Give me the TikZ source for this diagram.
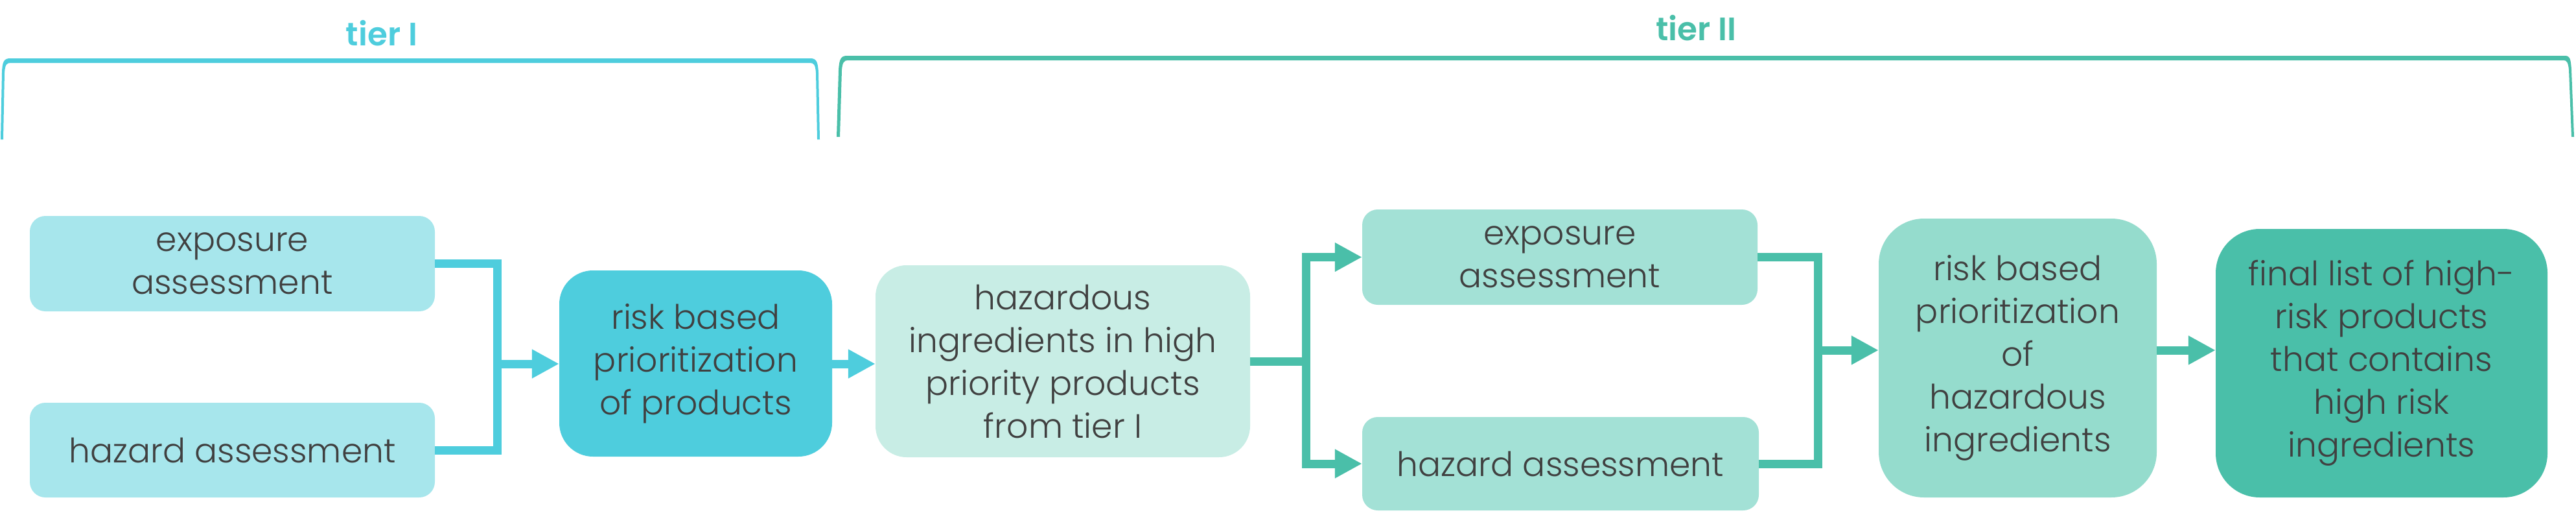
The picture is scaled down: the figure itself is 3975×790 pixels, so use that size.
\documentclass[tikz,border=0pt]{standalone}
\usepackage{fontspec}
\setmainfont{Poppins}[UprightFont=* Light, BoldFont=* SemiBold]
\usetikzlibrary{arrows.meta}
\definecolor{cyanD}{HTML}{4ECDDD}
\definecolor{cyanL}{HTML}{A7E6EC}
\definecolor{tealXL}{HTML}{C8EDE5}
\definecolor{tealL}{HTML}{A3E1D6}
\definecolor{tealM}{HTML}{95DCCD}
\definecolor{tealD}{HTML}{4ABFA9}
\definecolor{txt}{HTML}{404040}
\tikzset{
  card/.style={draw=none, align=center, text=txt, inner sep=0pt,
    font=\fontsize{52}{66}\selectfont},
  cline/.style={draw=cyanD, line width=13pt, line join=miter},
  tline/.style={draw=tealD, line width=13pt, line join=miter},
  tip/.style={-{Triangle[length=42pt,width=42pt]}},
  tierlabel/.style={font=\fontsize{50}{60}\selectfont\bfseries, anchor=base, inner sep=0pt}
}
\begin{document}
\begin{tikzpicture}[x=1pt,y=-1pt]
\useasboundingbox (0,0) rectangle (3975,790);
% brackets
\fill[cyanD] (1,215) -- (3,112) .. controls (3.5,95) and (6,90) .. (16,90) -- (1250,90)
  .. controls (1260,90) and (1262,95) .. (1263,112) -- (1265,215) -- (1261,215) -- (1259,112)
  .. controls (1258,100) and (1256,97) .. (1250,97) -- (16,97)
  .. controls (10,97) and (8,100) .. (7,112) -- (5,215) -- cycle;
\fill[tealD] (1291,211) -- (1294,108) .. controls (1295,92) and (1297,86) .. (1307,86) -- (3958,86)
  .. controls (3966,86) and (3967,92) .. (3968,108) -- (3972,211) -- (3968,211) -- (3964,108)
  .. controls (3963,97) and (3961,93) .. (3956,93) -- (1308,93)
  .. controls (1302,93) and (1300,97) .. (1299,108) -- (1296,211) -- cycle;
\node[tierlabel, text=cyanD] (t1) at (589,70) {tier I};
\node[tierlabel, text=tealD] (t2) at (2617,62) {tier II};
% boxes
\node[card, fill=cyanL, rounded corners=24pt, minimum width=625pt, minimum height=147pt] (e1) at (358.5,406.5) {exposure\\assessment};
\node[card, fill=cyanL, rounded corners=24pt, minimum width=625pt, minimum height=146pt] (h1) at (358.5,694) {hazard assessment};
\node[card, fill=cyanD, rounded corners=52pt, minimum width=421pt, minimum height=287pt] (r1) at (1073.5,560.5) {risk based\\prioritization\\of products};
\node[card, fill=tealXL, rounded corners=48pt, minimum width=578pt, minimum height=296pt] (hz) at (1640,557) {hazardous\\ingredients in high\\priority products\\from tier I};
\node[card, fill=tealL, rounded corners=24pt, minimum width=610pt, minimum height=147pt] (e2) at (2407,396.5) {exposure\\assessment};
\node[card, fill=tealL, rounded corners=24pt, minimum width=612pt, minimum height=144pt] (h2) at (2408,715) {hazard assessment};
\node[card, fill=tealM, rounded corners=70pt, minimum width=429pt, minimum height=430pt] (r2) at (3113.5,552) {risk based\\prioritization\\of\\hazardous\\ingredients};
\node[card, fill=tealD, rounded corners=68pt, minimum width=512pt, minimum height=414pt] (fin) at (3675,560) {final list of high-\\risk products\\that contains\\high risk\\ingredients};
% junctions
\coordinate (j1) at (767,561);
\coordinate (j2) at (2015,557);
\coordinate (j3) at (2805,540);
% tier I connectors
\draw[cline] (e1.east) -| (j1) |- (h1.east);
\draw[cline, tip] (j1) -- (j1 -| r1.west);
\draw[cline, tip] (r1.east |- j1) -- (j1 -| hz.west);
% tier II connectors
\draw[tline] (hz.east |- j2) -- (j2);
\draw[tline, tip] (j2) |- (e2.west);
\draw[tline, tip] (j2) |- (h2.west);
\draw[tline] (e2.east) -| (j3) |- (h2.east);
\draw[tline, tip] (j3) -- (j3 -| r2.west);
\draw[tline, tip] (r2.east |- j3) -- (j3 -| fin.west);
\end{tikzpicture}
\end{document}
